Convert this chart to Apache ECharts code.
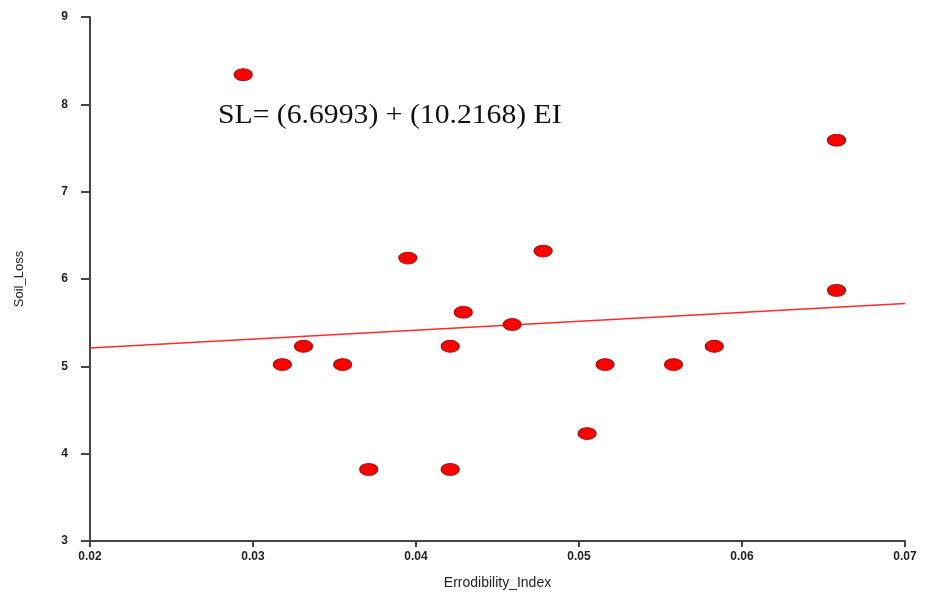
<!DOCTYPE html>
<html>
<head>
<meta charset="utf-8">
<script src="https://cdn.jsdelivr.net/npm/echarts@6/dist/echarts.min.js"></script>
<style>
  html, body { margin: 0; padding: 0; background: #fff; }
  #soilLoss { width: 925px; height: 597px; }
</style>
</head>
<body>
<div id="soilLoss"></div>
<script>
  // erodibility index (x) and soil loss (y)
  var erodIndex = [0.0294, 0.0318, 0.0331, 0.0355, 0.0371, 0.0395, 0.0421, 0.0421, 0.0429, 0.0459, 0.0478, 0.0505, 0.0516, 0.0558, 0.0583, 0.0658, 0.0658];
  var soilLoss  = [8.34, 5.02, 5.23, 5.02, 3.82, 6.24, 5.23, 3.82, 5.62, 5.48, 6.32, 4.23, 5.02, 5.02, 5.23, 7.59, 5.87];

  // fitted line end points as drawn
  var fitX = [0.02, 0.07];
  var fitY = [5.21, 5.72];

  var xTicks = { min: 0.02, max: 0.07, step: 0.01 };
  var yTicks = { min: 3, max: 9, step: 1 };

  var points = erodIndex.map(function (x, i) { return [x, soilLoss[i]]; });
  var fitLine = fitX.map(function (x, i) { return [x, fitY[i]]; });

  var myChart = echarts.init(document.getElementById('soilLoss'));

  var axisText = {
    color: '#222',
    fontFamily: 'Liberation Sans',
    fontSize: 12,
    fontWeight: 'bold'
  };

  myChart.setOption({
    animation: false,
    grid: {
      left: 90,
      right: 20,
      top: 17,
      bottom: 56
    },
    graphic: [{
      type: 'text',
      left: 218,
      top: 102,
      scaleX: 1.1,
      style: {
        text: 'SL= (6.6993) + (10.2168) EI',
        font: '27px "Liberation Serif"',
        fill: '#111'
      }
    }],
    xAxis: {
      type: 'value',
      min: xTicks.min,
      max: xTicks.max,
      interval: xTicks.step,
      name: 'Errodibility_Index',
      nameLocation: 'middle',
      nameGap: 35,
      nameTextStyle: {
        color: '#222',
        fontFamily: 'Liberation Sans',
        fontSize: 14
      },
      axisLine: { lineStyle: { color: '#444', width: 2 } },
      axisTick: { show: true, length: 6, lineStyle: { color: '#444', width: 2 } },
      axisLabel: Object.assign({}, axisText, {
        margin: 10,
        formatter: function (v) { return v.toFixed(2); }
      }),
      splitLine: { show: false }
    },
    yAxis: {
      type: 'value',
      min: yTicks.min,
      max: yTicks.max,
      interval: yTicks.step,
      name: 'Soil_Loss',
      nameLocation: 'middle',
      nameGap: 64,
      nameTextStyle: {
        color: '#222',
        fontFamily: 'Liberation Sans',
        fontSize: 13
      },
      axisLine: { show: true, lineStyle: { color: '#444', width: 2 } },
      axisTick: { show: true, length: 9, lineStyle: { color: '#444', width: 2 } },
      axisLabel: Object.assign({}, axisText, { margin: 22 }),
      splitLine: { show: false }
    },
    series: [{
      name: 'fit',
      type: 'line',
      symbol: 'none',
      data: fitLine,
      lineStyle: { color: '#ff2a2a', width: 1.5 },
      z: 2
    }, {
      name: 'Soil_Loss',
      type: 'scatter',
      symbol: 'circle',
      symbolSize: [18, 12],
      data: points,
      itemStyle: {
        color: '#ff0000',
        opacity: 1,
        borderColor: '#9a0c0c',
        borderWidth: 1
      },
      z: 3
    }]
  });

  window.addEventListener('resize', function () {
    myChart.resize();
  });
</script>
</body>
</html>
